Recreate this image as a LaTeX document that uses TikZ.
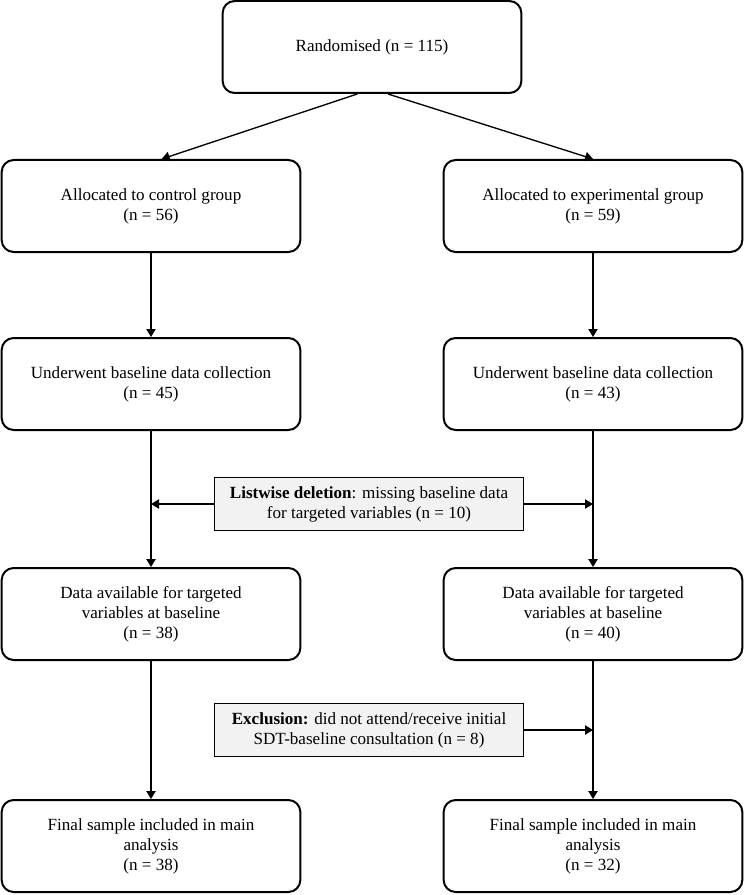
\documentclass[tikz,border=0pt]{standalone}
\usepackage{fontspec}
\setmainfont{Liberation Serif}
\usepackage{xcolor}
\usetikzlibrary{arrows.meta}
\definecolor{notegray}{rgb}{0.95,0.95,0.95}

\begin{document}
\begin{tikzpicture}[x=0.75pt,y=-0.75pt,
    font=\fontsize{12.8}{15}\selectfont,
    stage/.style={draw,line width=1.5pt,rounded corners=9pt,align=center,
        minimum width=224pt,minimum height=69pt},
    note/.style={draw,line width=1pt,fill=notegray,align=center,
        minimum width=231.5pt,minimum height=40pt},
    flow/.style={-{Triangle[length=6pt,width=7pt]},line width=1pt}]
    \useasboundingbox (0,0) rectangle (745,895);
    \node[stage] (rand) at (372,47) {Randomised (n = 115)};
    \node[stage] (ctrl) at (151,206) {Allocated to control group\\(n = 56)};
    \node[stage] (expt) at (593,206) {Allocated to experimental group\\(n = 59)};
    \node[stage] (baseC) at (151,384) {Underwent baseline data collection\\(n = 45)};
    \node[stage] (baseE) at (593,384) {Underwent baseline data collection\\(n = 43)};
    \node[stage] (dataC) at (151,614) {Data available for targeted\\variables at baseline\\(n = 38)};
    \node[stage] (dataE) at (593,614) {Data available for targeted\\variables at baseline\\(n = 40)};
    \node[stage] (finC) at (151,846) {Final sample included in main\\analysis\\(n = 38)};
    \node[stage] (finE) at (593,846) {Final sample included in main\\analysis\\(n = 32)};
    \node[note] (listwise) at (369,504) {\textbf{Listwise deletion}: missing baseline data\\for targeted variables (n = 10)};
    \node[note] (excl) at (369,730) {\textbf{Exclusion:} did not attend/receive initial\\SDT-baseline consultation (n = 8)};
    \draw[flow] ([xshift=-11pt]rand.south) -- ([xshift=8pt]ctrl.north);
    \draw[flow] ([xshift=12pt]rand.south) -- (expt.north);
    \foreach \from/\to in {ctrl/baseC,expt/baseE,baseC/dataC,baseE/dataE,dataC/finC,dataE/finE}
        \draw[flow] (\from) -- (\to);
    \draw[flow] (listwise.west) -- (listwise.west -| baseC.south);
    \draw[flow] (listwise.east) -- (listwise.east -| baseE.south);
    \draw[flow] (excl.east) -- (excl.east -| dataE.south);
\end{tikzpicture}
\end{document}
